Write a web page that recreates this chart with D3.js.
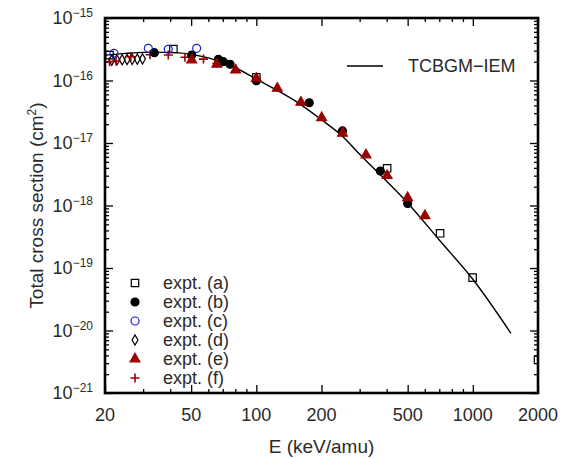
<!DOCTYPE html>
<html>
<head>
<meta charset="utf-8">
<script src="https://cdn.jsdelivr.net/npm/d3@7"></script>
<style>
  body { margin: 0; background: #fff; }
  text { font-family: "Liberation Sans", Arial, sans-serif; fill: #2a2a2a; }
</style>
</head>
<body>
<svg id="chart" width="575" height="459"></svg>
<script>
// theory curve TCBGM-IEM
var theoryE = [20, 25, 30, 40, 50, 60, 70, 80, 100, 150, 200, 250, 300, 400, 500, 700, 1000, 1500];
var theorySigma = [2.55e-16, 2.72e-16, 2.82e-16, 2.82e-16, 2.62e-16, 2.3e-16, 1.92e-16, 1.6e-16, 1.05e-16,
    4.8e-17, 2.35e-17, 1.28e-17, 6.6e-18, 2.45e-18, 1.1e-18, 2.8e-19, 6.6e-20, 9e-21];

// experiments
var exptA_E = [21, 41.4, 100, 402, 706, 998, 2000];
var exptA_S = [2.55e-16, 3.19e-16, 1.12e-16, 3.94e-18, 3.59e-19, 7.0e-20, 3.4e-21];
var exptB_E = [33.8, 50.3, 66.8, 70.4, 75.6, 100, 175.6, 250, 374, 500];
var exptB_S = [2.79e-16, 2.56e-16, 2.18e-16, 2.0e-16, 1.82e-16, 0.99e-16, 4.4e-17, 1.56e-17, 3.56e-18, 1.08e-18];
var exptC_E = [22, 31.7, 39.2, 53];
var exptC_S = [2.72e-16, 3.27e-16, 3.16e-16, 3.27e-16];
var exptD_E = [21.5, 22.7, 24, 25.3, 26.7, 28.2, 29.8];
var exptD_S = [2.12e-16, 2.14e-16, 2.15e-16, 2.17e-16, 2.18e-16, 2.2e-16, 2.22e-16];
var exptE_E = [50.3, 65.7, 80.2, 100, 125, 160.6, 200.4, 250, 321, 402, 500, 601];
var exptE_S = [2.13e-16, 1.82e-16, 1.47e-16, 1.08e-16, 7.5e-17, 4.48e-17, 2.54e-17, 1.43e-17, 6.43e-18, 3.0e-18, 1.33e-18, 6.87e-19];
var exptF_E = [21, 22.5, 26.3, 32.3, 39.2, 46.8, 57, 65.7];
var exptF_S = [2.0e-16, 2.05e-16, 2.4e-16, 2.58e-16, 2.56e-16, 2.35e-16, 2.2e-16, 1.89e-16];

var xMajor = [20, 50, 100, 200, 500, 1000, 2000];
var xMinor = [30, 40, 60, 70, 80, 90, 300, 400, 600, 700, 800, 900];
var yExponents = [-21, -20, -19, -18, -17, -16, -15];

var legendLabels = ["expt. (a)", "expt. (b)", "expt. (c)", "expt. (d)", "expt. (e)", "expt. (f)"];

(function () {
var svg = d3.select("#chart");
var pLeft = 105, pRight = 538, pTop = 18, pBottom = 393;
var darkRed = "#990000", blue = "#1f1fcc";

var x = d3.scaleLog().domain([20, 2000]).range([pLeft, pRight]);
var y = d3.scaleLog().domain([1e-21, 1e-15]).range([pBottom, pTop]);

var yMajor = yExponents.map(function (e) { return Math.pow(10, e); });
var yMinor = [];
yExponents.slice(0, -1).forEach(function (e) {
    for (var k = 2; k <= 9; k++) yMinor.push(k * Math.pow(10, e));
});

// ticks (inward)
function tickAxis(axis, tr, vals, size) {
    var g = svg.append("g").attr("transform", tr)
        .call(axis.tickValues(vals).tickSizeInner(size).tickSizeOuter(0).tickFormat(""));
    g.select(".domain").remove();
    g.selectAll("line").attr("stroke", "#000").attr("stroke-width", 1.3);
    return g;
}
tickAxis(d3.axisBottom(x), "translate(0," + pBottom + ")", xMajor, -8);
tickAxis(d3.axisBottom(x), "translate(0," + pBottom + ")", xMinor, -4);
tickAxis(d3.axisTop(x), "translate(0," + pTop + ")", xMajor, -8);
tickAxis(d3.axisTop(x), "translate(0," + pTop + ")", xMinor, -4);
tickAxis(d3.axisLeft(y), "translate(" + pLeft + ",0)", yMajor, -8);
tickAxis(d3.axisLeft(y), "translate(" + pLeft + ",0)", yMinor, -4);
tickAxis(d3.axisRight(y), "translate(" + pRight + ",0)", yMajor, -8);
tickAxis(d3.axisRight(y), "translate(" + pRight + ",0)", yMinor, -4);

// x tick labels
svg.append("g").selectAll("text").data(xMajor).enter().append("text")
    .attr("x", function (d) { return x(d); })
    .attr("y", pBottom + 28)
    .attr("text-anchor", "middle")
    .style("font-size", "18px")
    .text(function (d) { return d; });

// y tick labels
var yl = svg.append("g").selectAll("text").data(yExponents).enter().append("text")
    .attr("x", pLeft - 12)
    .attr("y", function (d) { return y(Math.pow(10, d)) + 6; })
    .attr("text-anchor", "end")
    .style("font-size", "18px");
yl.append("tspan").text("10");
yl.append("tspan").attr("dy", -7).style("font-size", "12px").text(function (d) { return "\u2212" + Math.abs(d); });

// axis titles
svg.append("text")
    .attr("x", (pLeft + pRight) / 2).attr("y", 453)
    .attr("text-anchor", "middle").style("font-size", "19px")
    .text("E (keV/amu)");
var yt = svg.append("text")
    .attr("transform", "translate(43," + ((pTop + pBottom) / 2) + ") rotate(-90)")
    .attr("text-anchor", "middle").style("font-size", "19px");
yt.append("tspan").text("Total cross section (cm");
yt.append("tspan").attr("dy", -7).style("font-size", "12px").text("2");
yt.append("tspan").attr("dy", 7).text(")");

// clip
svg.append("clipPath").attr("id", "clip").append("rect")
    .attr("x", pLeft).attr("y", pTop).attr("width", pRight - pLeft).attr("height", pBottom - pTop);
var plot = svg.append("g").attr("clip-path", "url(#clip)");

var line = d3.line()
    .x(function (d, i) { return x(theoryE[i]); })
    .y(function (d) { return y(d); })
    .curve(d3.curveMonotoneX);
plot.append("path").datum(theorySigma)
    .attr("d", line).attr("fill", "none").attr("stroke", "#000").attr("stroke-width", 1.4);

// markers
var markerDefs = [
    { type: "square", stroke: "#000", fill: "none" },
    { type: "circle", stroke: "#000", fill: "#000" },
    { type: "circle", stroke: blue, fill: "none" },
    { type: "diamond", stroke: "#000", fill: "none" },
    { type: "triangle", stroke: darkRed, fill: darkRed },
    { type: "plus", stroke: darkRed, fill: "none" }
];
var symbolMap = {
    square: d3.symbol().type(d3.symbolSquare).size(55),
    circle: d3.symbol().type(d3.symbolCircle).size(50),
    diamond: d3.symbol().type(d3.symbolDiamond).size(30),
    triangle: d3.symbol().type(d3.symbolTriangle).size(42),
    plus: null
};

function drawMarker(g, def, cx, cy) {
    if (def.type === "plus") {
        g.append("path")
            .attr("d", "M" + (cx - 4.5) + "," + cy + "H" + (cx + 4.5) + "M" + cx + "," + (cy - 4.5) + "V" + (cy + 4.5))
            .attr("stroke", def.stroke).attr("stroke-width", 1.6).attr("fill", "none");
    } else {
        g.append("path")
            .attr("d", symbolMap[def.type]())
            .attr("transform", "translate(" + cx + "," + cy + ")")
            .attr("stroke", def.stroke).attr("stroke-width", 1.2).attr("fill", def.fill);
    }
}

var seriesE = [exptA_E, exptB_E, exptC_E, exptD_E, exptE_E, exptF_E];
var seriesS = [exptA_S, exptB_S, exptC_S, exptD_S, exptE_S, exptF_S];
var drawOrder = [3, 5, 0, 1, 4, 2];
drawOrder.forEach(function (k) {
    seriesE[k].forEach(function (e, i) {
        drawMarker(plot, markerDefs[k], x(e), y(seriesS[k][i]));
    });
});

// frame
svg.append("rect")
    .attr("x", pLeft).attr("y", pTop).attr("width", pRight - pLeft).attr("height", pBottom - pTop)
    .attr("fill", "none").attr("stroke", "#000").attr("stroke-width", 2.6);

// legends
svg.append("line").attr("x1", 347).attr("x2", 383).attr("y1", 66).attr("y2", 66)
    .attr("stroke", "#000").attr("stroke-width", 1.4);
svg.append("text").attr("x", 408).attr("y", 72).style("font-size", "18px").text("TCBGM\u2212IEM");

legendLabels.forEach(function (lab, k) {
    var ly = 283 + k * 19;
    drawMarker(svg, markerDefs[k], 135, ly);
    svg.append("text").attr("x", 163).attr("y", ly + 6).style("font-size", "18px").text(lab);
});
})();
</script>
</body>
</html>
